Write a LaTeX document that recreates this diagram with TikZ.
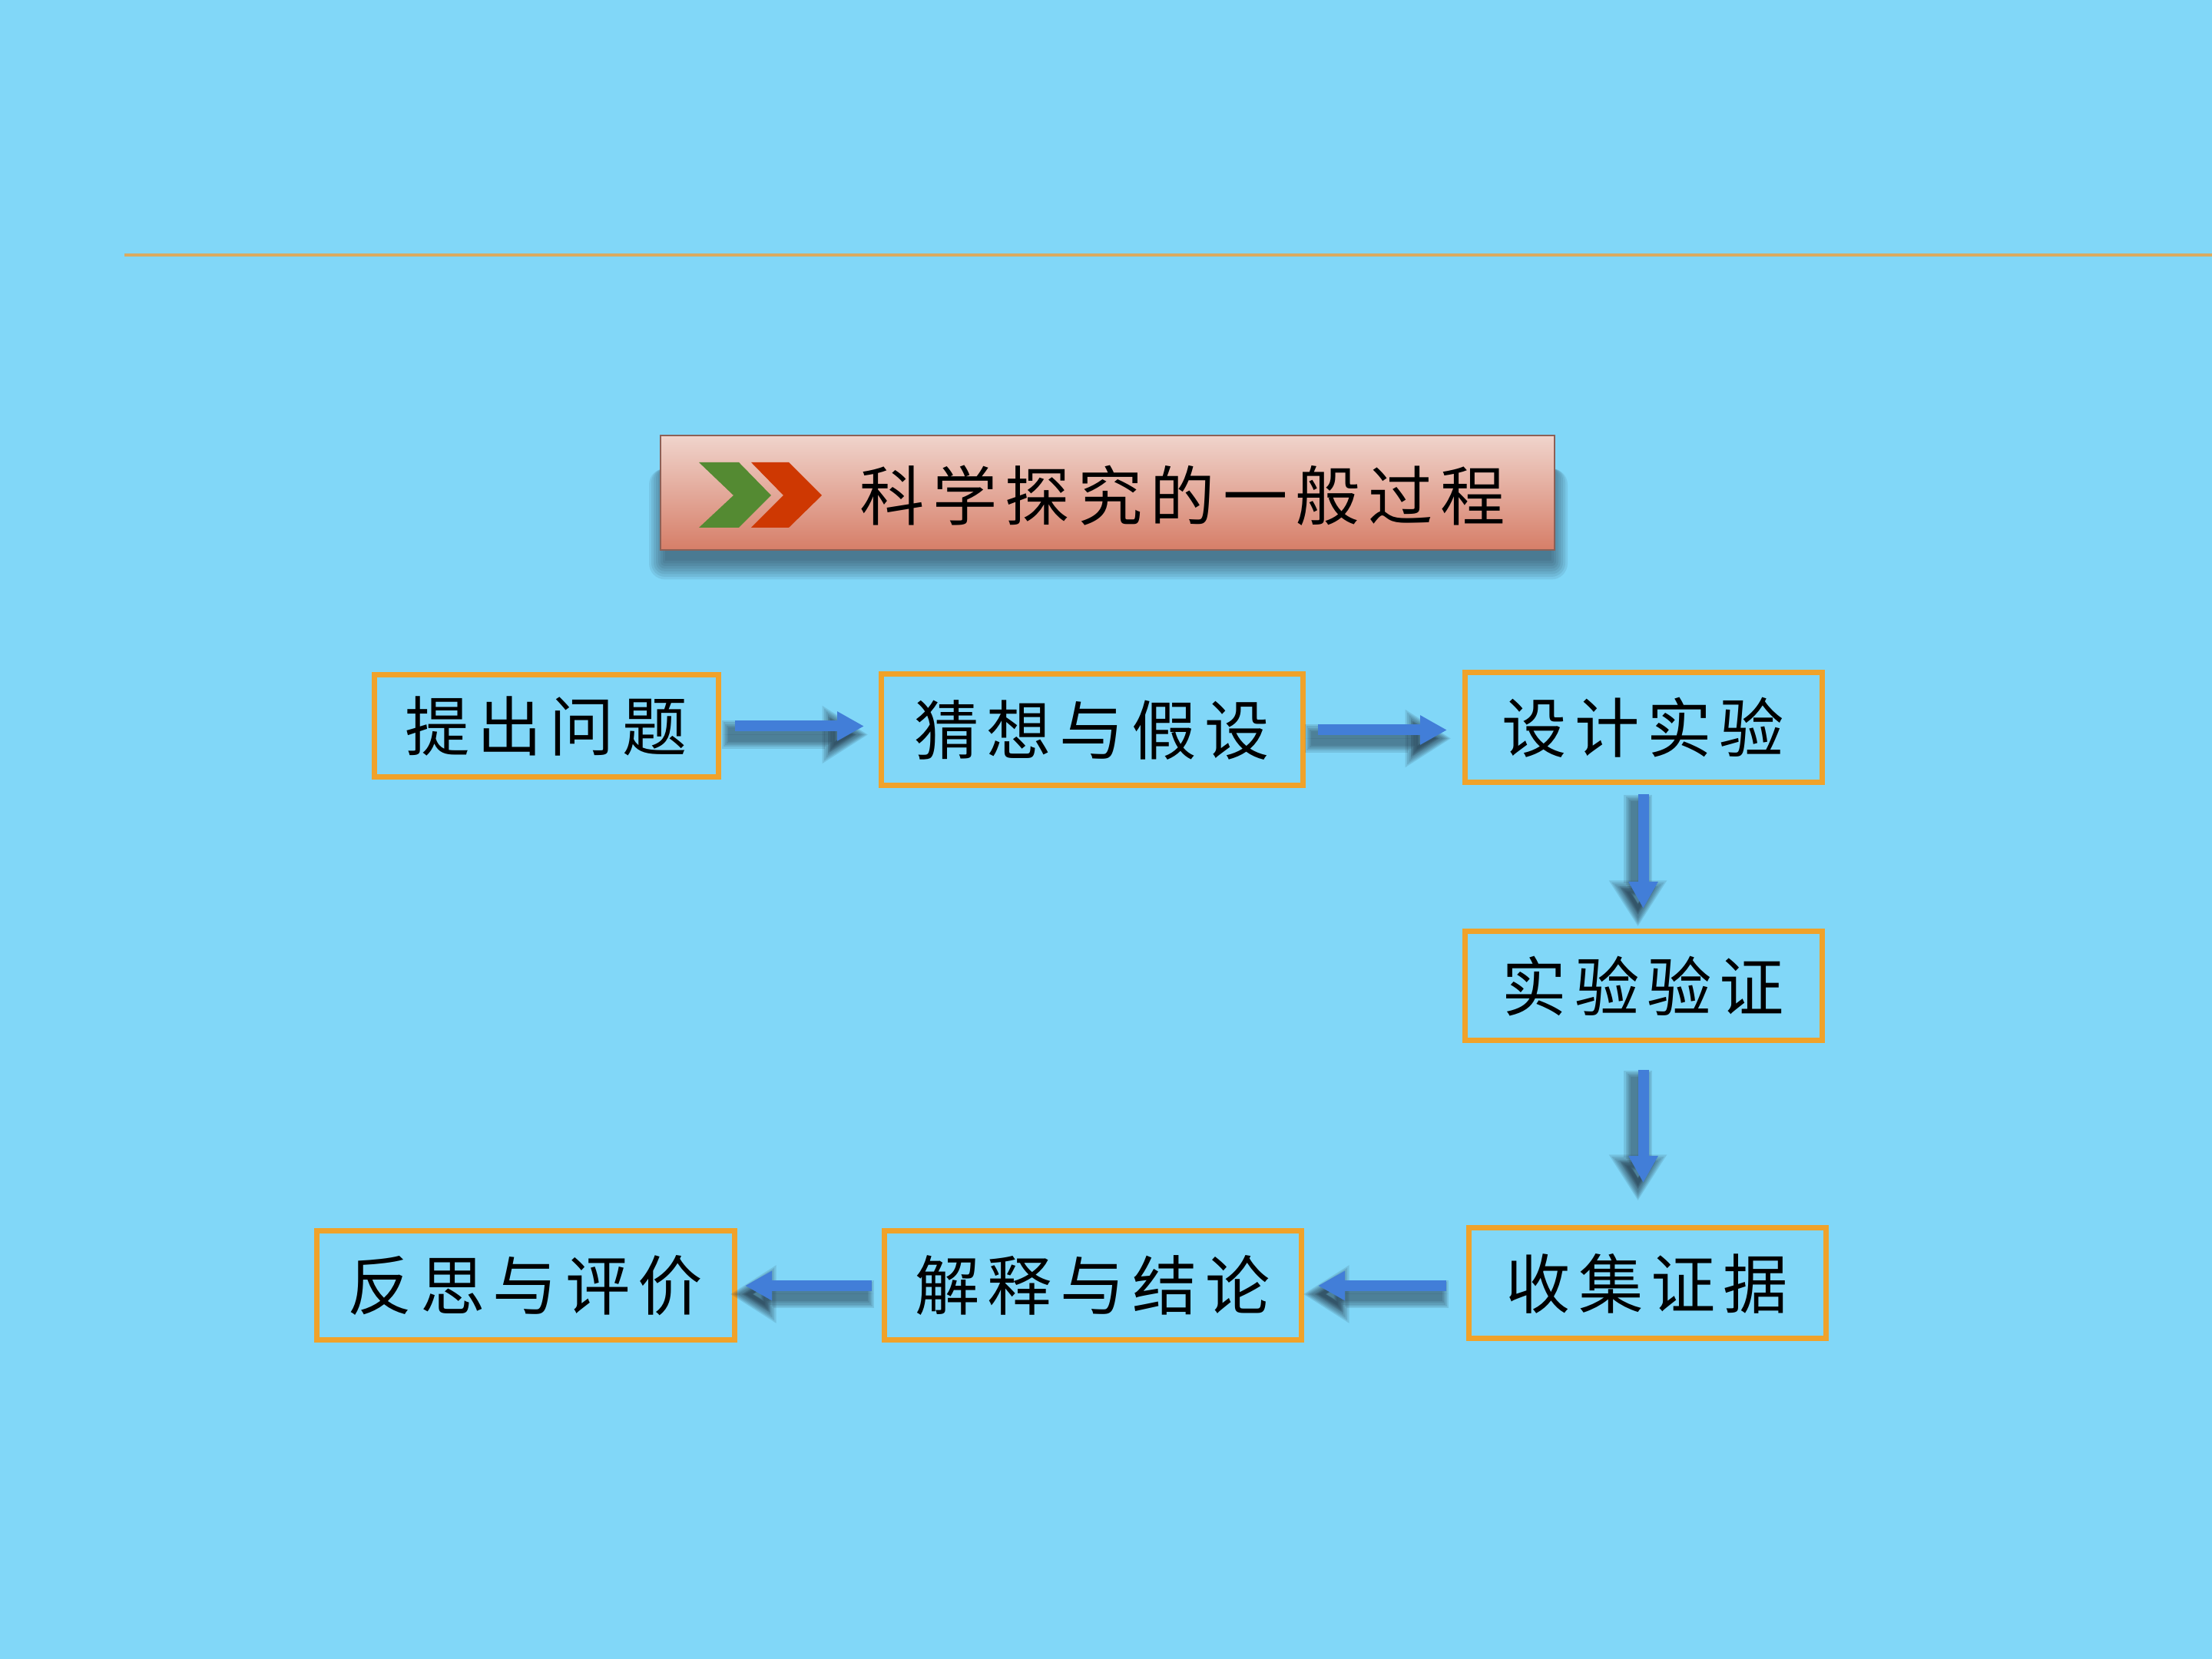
\documentclass[tikz,border=0pt]{standalone}
\usepackage{fontspec}
\newfontfamily\cjk{Noto Sans CJK SC}[LetterSpace=12]
\usetikzlibrary{arrows.meta}
\definecolor{bg}{RGB}{129,215,248}
\definecolor{boxorange}{RGB}{240,162,42}
\definecolor{arrowblue}{RGB}{66,126,216}
\definecolor{rulegold}{RGB}{218,170,95}
\definecolor{bartop}{RGB}{240,212,204}
\definecolor{barbottom}{RGB}{214,126,104}
\definecolor{barline}{RGB}{140,96,86}
\definecolor{chevgreen}{RGB}{84,138,50}
\definecolor{chevred}{RGB}{206,56,2}
\definecolor{shadowc}{RGB}{30,45,60}
\tikzset{
  stepbox/.style={draw=boxorange, line width=0.07cm, rectangle, inner sep=0pt, outer sep=0pt,
    font=\cjk\fontsize{24pt}{24pt}\selectfont, text=black},
  flow/.style={draw=arrowblue, line width=0.14cm, -{Triangle[length=0.35cm,width=0.36cm]}},
  flowshadow/.style={draw=shadowc, fill=shadowc, opacity=0.13, line join=round,
    transform canvas={shift={(-0.07,-0.11)}}},
  titlefont/.style={font=\cjk\fontsize{24pt}{24pt}\selectfont, text=black},
}
\newcommand\flowarrow[4]{%
  \foreach \k in {1,...,5}{%
    \pgfmathsetmacro\shw{0.14+0.045*\k}%
    \pgfmathsetmacro\shl{0.35+0.05*\k}%
    \pgfmathsetmacro\shb{0.36+0.07*\k}%
    \pgfmathsetlengthmacro\shA{#3-\k*0.02cm}%
    \pgfmathsetlengthmacro\shB{#4-\k*0.025cm}%
    \draw[flowshadow, line width=\shw cm, -{Triangle[length=\shl cm,width=\shb cm]}, shorten <=\shA, shorten >=\shB] #1 -- #2;
  }
  \draw[flow, shorten <=#3, shorten >=#4] #1 -- #2;
}
\begin{document}
\begin{tikzpicture}
\useasboundingbox (0,0) rectangle (28.8,21.6);
\fill[bg] (0,0) rectangle (28.8,21.6);
% top rule
\draw[rulegold, line width=0.04cm] (1.62,18.28) -- (28.8,18.28);
% title bar shadow
\foreach \k in {0,...,7}
  \fill[shadowc, opacity=0.09, rounded corners=\k*0.03cm] (8.66-\k*0.03,15.5) rectangle (20.20+\k*0.03,14.30-\k*0.035);
\node[draw=barline, line width=0.025cm, top color=bartop, bottom color=barbottom,
  minimum width=11.64cm, minimum height=1.49cm, inner sep=0pt, outer sep=0pt] (titlebar) at (14.42,15.185) {};
\fill[chevgreen] (9.10,15.58) -- (9.62,15.58) -- (10.04,15.15) -- (9.62,14.73) -- (9.10,14.73) -- (9.55,15.15) -- cycle;
\fill[chevred] (9.78,15.58) -- (10.27,15.58) -- (10.70,15.15) -- (10.27,14.73) -- (9.78,14.73) -- (10.20,15.15) -- cycle;
\node[titlefont] (titletext) at (15.40,15.15) {科学探究的一般过程};
% boxes
\node[stepbox, minimum width=4.48cm, minimum height=1.33cm] (b1) at (7.11,12.145) {提出问题};
\node[stepbox, minimum width=5.49cm, minimum height=1.45cm] (b2) at (14.215,12.095) {猜想与假设};
\node[stepbox, minimum width=4.65cm, minimum height=1.43cm] (b3) at (21.395,12.125) {设计实验};
\node[stepbox, minimum width=4.65cm, minimum height=1.42cm] (b4) at (21.395,8.76) {实验验证};
\node[stepbox, minimum width=4.65cm, minimum height=1.44cm] (b5) at (21.445,4.89) {收集证据};
\node[stepbox, minimum width=5.43cm, minimum height=1.42cm] (b6) at (14.225,4.86) {解释与结论};
\node[stepbox, minimum width=5.44cm, minimum height=1.42cm] (b7) at (6.84,4.86) {反思与评价};
% arrows
\flowarrow{(b1.east)}{(b1.east -| b2.west)}{0.22cm}{0.22cm}
\flowarrow{(b2.east)}{(b2.east -| b3.west)}{0.20cm}{0.23cm}
\flowarrow{(b3.south)}{(b3.south |- b4.north)}{0.15cm}{0.30cm}
\flowarrow{(b4.south)}{(b4.south |- b5.north)}{0.38cm}{0.59cm}
\flowarrow{(b6.east -| b5.west)}{(b6.east)}{0.29cm}{0.22cm}
\flowarrow{(b6.west)}{(b7.east)}{0.16cm}{0.14cm}
\end{tikzpicture}
\end{document}
